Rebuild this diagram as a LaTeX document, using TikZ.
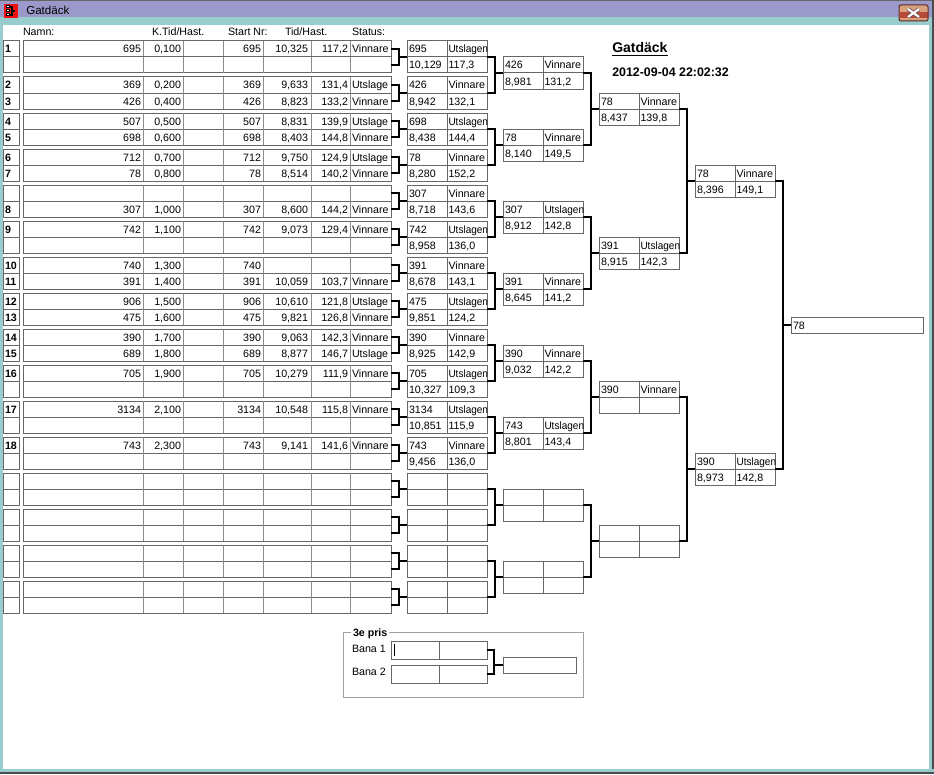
\documentclass[tikz,border=0pt]{standalone}
\usepackage{fontspec}
\setmainfont{Liberation Sans}
\usetikzlibrary{calc}
\definecolor{tbar}{HTML}{9B99C9}
\definecolor{wteal}{HTML}{99CCCC}
\definecolor{bdr}{HTML}{666666}
\definecolor{dvl}{HTML}{8C8C8C}
\definecolor{grp}{HTML}{A0A0A0}
\definecolor{btnA}{HTML}{D9A27E}
\definecolor{btnB}{HTML}{B8483A}
\definecolor{btnE}{HTML}{5A2A2A}
\definecolor{icred}{HTML}{F01010}
\tikzset{
  numbox/.style={draw=bdr, line width=0.75pt, minimum width=12pt, minimum height=12pt, inner sep=0pt, outer sep=0pt, anchor=north west},
  rowbox/.style={draw=bdr, line width=0.75pt, minimum width=276pt, minimum height=12pt, inner sep=0pt, outer sep=0pt, anchor=north west},
  bkbox/.style={draw=bdr, line width=0.75pt, minimum width=60pt, minimum height=24pt, inner sep=0pt, outer sep=0pt, anchor=north west},
  finbox/.style={draw=bdr, line width=0.75pt, minimum width=99pt, minimum height=12pt, inner sep=0pt, outer sep=0pt, anchor=north west},
  banabox/.style={draw=bdr, line width=0.75pt, minimum width=72pt, minimum height=13.5pt, inner sep=0pt, outer sep=0pt, anchor=north west},
  thirdbox/.style={draw=bdr, line width=0.75pt, minimum width=54.75pt, minimum height=12pt, inner sep=0pt, outer sep=0pt, anchor=north west},
  cline/.style={draw=bdr, line width=0.75pt},
  divl/.style={draw=dvl, line width=0.75pt},
  brk/.style={draw=black, line width=1.5pt},
  txt/.style={inner sep=0pt, outer sep=0pt, font=\fontsize{8}{9.6}\selectfont},
  txtb/.style={inner sep=0pt, outer sep=0pt, font=\fontsize{8}{9.6}\selectfont\bfseries},
}
\newcommand\ut{\scalebox{0.94}[1]{Utslagen}}
% left table row: name, top y, num, namecol, ktid, start, tid, hast, status
\newcommand\prow[9]{%
  \node[numbox] (#1n) at (3,#2) {};
  \node[rowbox] (#1) at (23,#2) {};
  \foreach \xx in {143,183,223,263,311,350}{\draw[divl] (\xx,#2) -- (\xx,{#2+16});}
  \node[txtb, anchor=base west] (#1t0) at (5,{#2+12}) {#3};
  \node[txt, anchor=base east] (#1t1) at (141,{#2+12}) {#4};
  \node[txt, anchor=base east] (#1t2) at (181,{#2+12}) {#5};
  \node[txt, anchor=base east] (#1t3) at (261,{#2+12}) {#6};
  \node[txt, anchor=base east] (#1t4) at (308,{#2+12}) {#7};
  \node[txt, anchor=base east] (#1t5) at (348,{#2+12}) {#8};
  \node[txt, anchor=base west] (#1t6) at (352,{#2+12}) {#9};
}
\newcommand\erow[2]{\prow{#1}{#2}{}{}{}{}{}{}{}}
% bracket box: name, x, y, tl, tr, bl, br
\newcommand\bbox[7]{%
  \node[bkbox] (#1) at (#2,#3) {};
  \draw[cline] (#2,{#3+16}) -- ({#2+80},{#3+16});
  \draw[cline] ({#2+40},#3) -- ({#2+40},{#3+32});
  \node[txt, anchor=base west] (#1t0) at ({#2+2},{#3+12}) {#4};
  \node[txt, anchor=base west] (#1t1) at ({#2+41.5},{#3+12}) {#5};
  \node[txt, anchor=base west] (#1t2) at ({#2+2},{#3+28}) {#6};
  \node[txt, anchor=base west] (#1t3) at ({#2+41.5},{#3+28}) {#7};
}
\begin{document}
\begin{tikzpicture}[x=0.75pt,y=-0.75pt]
\useasboundingbox (0,0) rectangle (934,774);
\fill[white] (0,0) rectangle (934,774);
% window frame
\fill[tbar] (0,0) rectangle (934,17);
\fill[wteal] (0,17) rectangle (934,25);
\draw[bdr, line width=0.75pt] (0,0.5) -- (934,0.5);
\fill[wteal] (0,25) rectangle (3,774);
\fill[wteal] (929,25) rectangle (932,774);
\fill[black!70] (932,0) rectangle (934,774);
\fill[wteal] (0,769) rectangle (934,772);
\fill[black!70] (0,772) rectangle (934,774);
% title icon
\fill[icred] (4,4) rectangle (18,18);
\draw[black, line width=0.75pt, fill=white] (6,6) rectangle (9,8);
\draw[black, line width=0.75pt, fill=white] (6,10) rectangle (9,12);
\draw[black, line width=0.75pt, fill=white] (6,14) rectangle (9,16);
\draw[black, line width=0.9pt] (10,7) -- (12,7) -- (12,15) -- (10,15) (12,11) -- (15,11);
\node[inner sep=0pt, anchor=base west, font=\fontsize{8.7}{10}\selectfont] (ttl) at (26,15) {Gatdäck};
% close button
\fill[btnA, rounded corners=1pt] (899,5) rectangle (928,21);
\fill[btnB] (899.5,12) rectangle (927.5,18);
\draw[btnE, line width=0.75pt, rounded corners=1.5pt] (899,5) rectangle (928,21);
\draw[btnE!80, line width=3pt] (908,9) -- (919,17) (908,17) -- (919,9);
\draw[white, line width=1.6pt] (908,9) -- (919,17) (908,17) -- (919,9);
% headers
\node[txt, anchor=base west] (h1) at (23,36) {Namn:};
\node[txt, anchor=base west] (h2) at (152,36) {K.Tid/Hast.};
\node[txt, anchor=base west] (h3) at (228,36) {Start Nr:};
\node[txt, anchor=base west] (h4) at (285,36) {Tid/Hast.};
\node[txt, anchor=base west] (h5) at (352,36) {Status:};
% left table
\prow{ra0}{41}{1}{695}{0,100}{695}{10,325}{117,2}{Vinnare}
\erow{rb0}{57}
\prow{ra1}{77}{2}{369}{0,200}{369}{9,633}{131,4}{Utslage}
\prow{rb1}{93}{3}{426}{0,400}{426}{8,823}{133,2}{Vinnare}
\prow{ra2}{113}{4}{507}{0,500}{507}{8,831}{139,9}{Utslage}
\prow{rb2}{129}{5}{698}{0,600}{698}{8,403}{144,8}{Vinnare}
\prow{ra3}{149}{6}{712}{0,700}{712}{9,750}{124,9}{Utslage}
\prow{rb3}{165}{7}{78}{0,800}{78}{8,514}{140,2}{Vinnare}
\erow{ra4}{185}
\prow{rb4}{201}{8}{307}{1,000}{307}{8,600}{144,2}{Vinnare}
\prow{ra5}{221}{9}{742}{1,100}{742}{9,073}{129,4}{Vinnare}
\erow{rb5}{237}
\prow{ra6}{257}{10}{740}{1,300}{740}{}{}{}
\prow{rb6}{273}{11}{391}{1,400}{391}{10,059}{103,7}{Vinnare}
\prow{ra7}{293}{12}{906}{1,500}{906}{10,610}{121,8}{Utslage}
\prow{rb7}{309}{13}{475}{1,600}{475}{9,821}{126,8}{Vinnare}
\prow{ra8}{329}{14}{390}{1,700}{390}{9,063}{142,3}{Vinnare}
\prow{rb8}{345}{15}{689}{1,800}{689}{8,877}{146,7}{Utslage}
\prow{ra9}{365}{16}{705}{1,900}{705}{10,279}{111,9}{Vinnare}
\erow{rb9}{381}
\prow{ra10}{401}{17}{3134}{2,100}{3134}{10,548}{115,8}{Vinnare}
\erow{rb10}{417}
\prow{ra11}{437}{18}{743}{2,300}{743}{9,141}{141,6}{Vinnare}
\erow{rb11}{453}
\erow{ra12}{473}
\erow{rb12}{489}
\erow{ra13}{509}
\erow{rb13}{525}
\erow{ra14}{545}
\erow{rb14}{561}
\erow{ra15}{581}
\erow{rb15}{597}
% round 2
\bbox{cb0}{407}{41}{695}{\ut}{10,129}{117,3}
\bbox{cb1}{407}{77}{426}{Vinnare}{8,942}{132,1}
\bbox{cb2}{407}{113}{698}{\ut}{8,438}{144,4}
\bbox{cb3}{407}{149}{78}{Vinnare}{8,280}{152,2}
\bbox{cb4}{407}{185}{307}{Vinnare}{8,718}{143,6}
\bbox{cb5}{407}{221}{742}{\ut}{8,958}{136,0}
\bbox{cb6}{407}{257}{391}{Vinnare}{8,678}{143,1}
\bbox{cb7}{407}{293}{475}{\ut}{9,851}{124,2}
\bbox{cb8}{407}{329}{390}{Vinnare}{8,925}{142,9}
\bbox{cb9}{407}{365}{705}{\ut}{10,327}{109,3}
\bbox{cb10}{407}{401}{3134}{\ut}{10,851}{115,9}
\bbox{cb11}{407}{437}{743}{Vinnare}{9,456}{136,0}
\bbox{cb12}{407}{473}{}{}{}{}
\bbox{cb13}{407}{509}{}{}{}{}
\bbox{cb14}{407}{545}{}{}{}{}
\bbox{cb15}{407}{581}{}{}{}{}
% round 3
\bbox{cc0}{503}{57}{426}{Vinnare}{8,981}{131,2}
\bbox{cc1}{503}{129}{78}{Vinnare}{8,140}{149,5}
\bbox{cc2}{503}{201}{307}{\ut}{8,912}{142,8}
\bbox{cc3}{503}{273}{391}{Vinnare}{8,645}{141,2}
\bbox{cc4}{503}{345}{390}{Vinnare}{9,032}{142,2}
\bbox{cc5}{503}{417}{743}{\ut}{8,801}{143,4}
\bbox{cc6}{503}{489}{}{}{}{}
\bbox{cc7}{503}{561}{}{}{}{}
% round 4
\bbox{cd0}{599}{93}{78}{Vinnare}{8,437}{139,8}
\bbox{cd1}{599}{237}{391}{\ut}{8,915}{142,3}
\bbox{cd2}{599}{381}{390}{Vinnare}{}{}
\bbox{cd3}{599}{525}{}{}{}{}
% round 5
\bbox{ce0}{695}{165}{78}{Vinnare}{8,396}{149,1}
\bbox{ce1}{695}{453}{390}{\ut}{8,973}{142,8}
% final
\node[finbox] (fin) at (791,317) {};
\node[txt, anchor=base west] (fint) at (793,329) {78};
% brackets
\foreach \k in {0,...,15}{
  \draw[brk] (ra\k.east) -- ++(8,0) |- (rb\k.east);
  \draw[brk] (cb\k.west) -- ++(-8,0);
}
\foreach \j in {0,...,7}{
  \pgfmathtruncatemacro\ja{2*\j}\pgfmathtruncatemacro\jb{2*\j+1}
  \draw[brk] (cb\ja.east) -- ++(8,0) |- (cb\jb.east);
  \draw[brk] (cc\j.west) -- ++(-8,0);
}
\foreach \j in {0,...,3}{
  \pgfmathtruncatemacro\ja{2*\j}\pgfmathtruncatemacro\jb{2*\j+1}
  \draw[brk] (cc\ja.east) -- ++(8,0) |- (cc\jb.east);
  \draw[brk] (cd\j.west) -- ++(-8,0);
}
\foreach \j in {0,1}{
  \pgfmathtruncatemacro\ja{2*\j}\pgfmathtruncatemacro\jb{2*\j+1}
  \draw[brk] (cd\ja.east) -- ++(8,0) |- (cd\jb.east);
  \draw[brk] (ce\j.west) -- ++(-8,0);
}
\draw[brk] (ce0.east) -- ++(8,0) |- (ce1.east);
\draw[brk] (fin.west) -- ++(-8,0);
% title
\node[inner sep=0pt, anchor=base west, font=\fontsize{10.5}{12}\selectfont\bfseries] (gt) at (612,53) {\underline{Gatdäck}};
\node[inner sep=0pt, anchor=base west, font=\fontsize{9.3}{11}\selectfont\bfseries] (dt) at (612,76) {2012-09-04 22:02:32};
% 3e pris group
\draw[grp, line width=0.75pt] (343,632) rectangle (583,697);
\node[txtb, fill=white, inner xsep=1.5pt, anchor=base west] (g3) at (351,636) {3e pris};
\node[txt, anchor=base west] (bn1) at (352,652) {Bana 1};
\node[txt, anchor=base west] (bn2) at (352,675) {Bana 2};
\node[banabox] (b1) at (391,641) {};
\node[banabox] (b2) at (391,665) {};
\draw[cline] (439,641) -- (439,659) (439,665) -- (439,683);
\node[thirdbox] (b3) at (503,657) {};
\draw[black, line width=0.75pt] (394,644) -- (394,656);
\draw[brk] (b1.east) -- ++(7,0) |- (b2.east);
\draw[brk] (b3.west) -- ++(-9,0);
\end{tikzpicture}
\end{document}
